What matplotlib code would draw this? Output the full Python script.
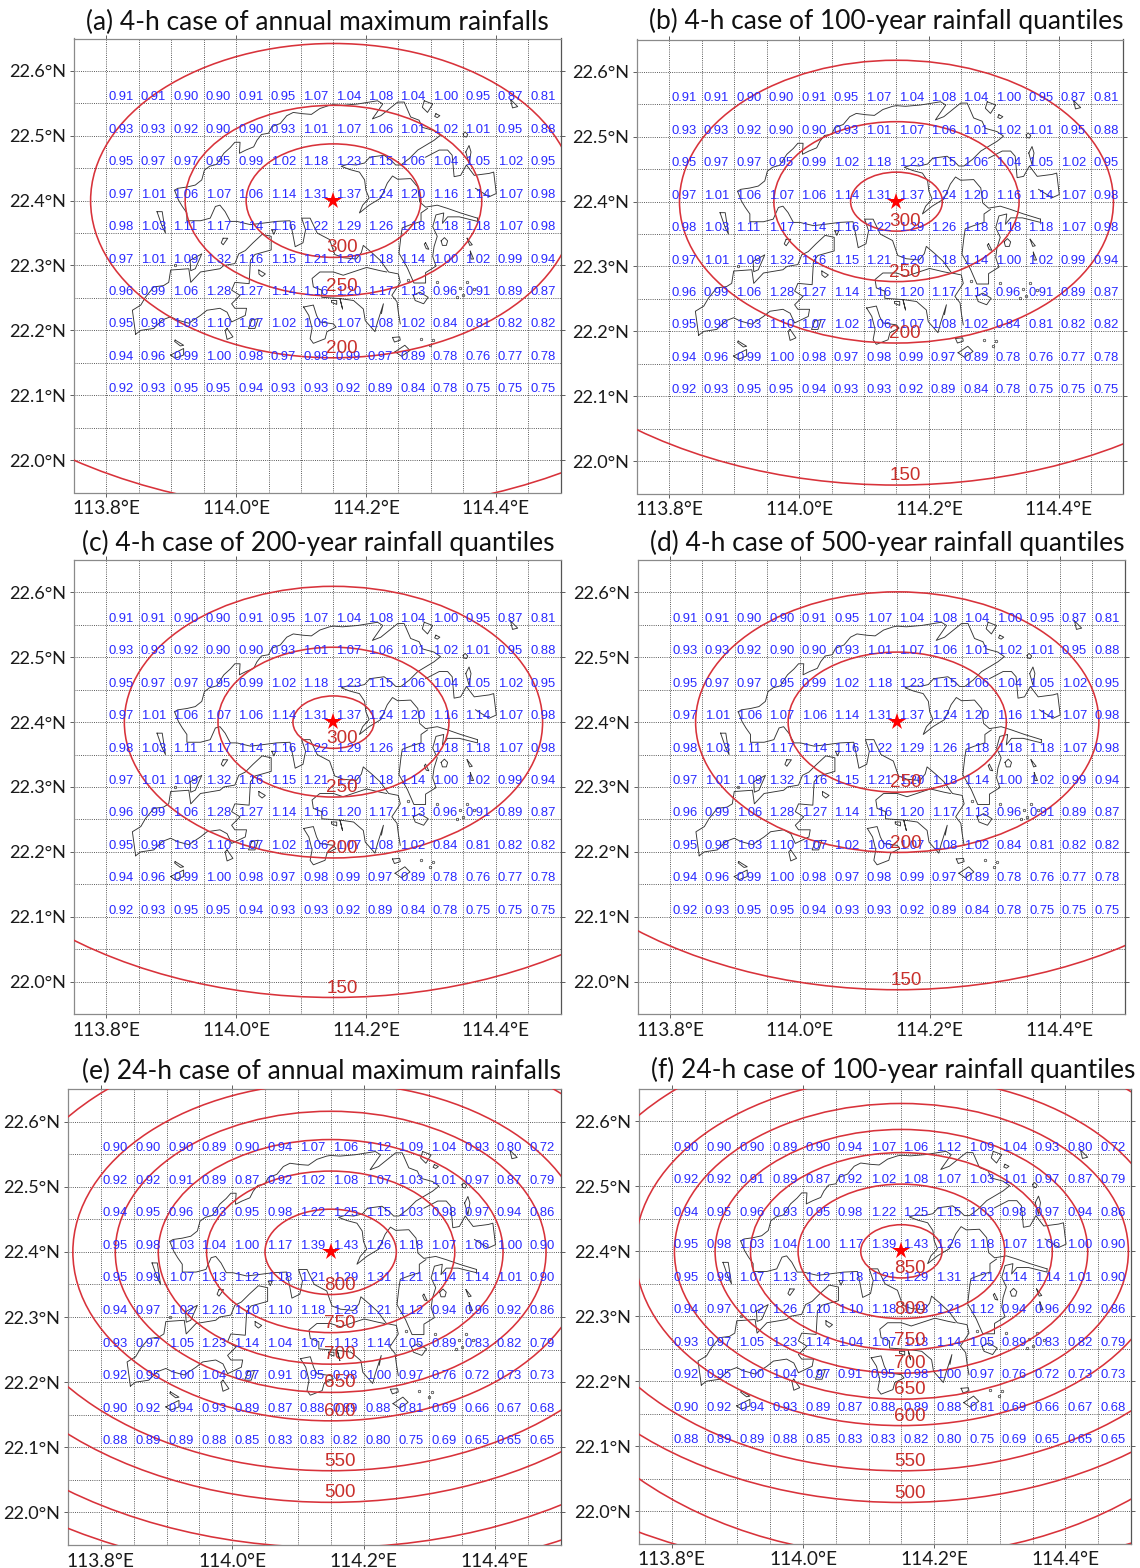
import matplotlib
matplotlib.use("Agg")
import matplotlib.pyplot as plt
from matplotlib.patches import Ellipse
from matplotlib.ticker import FixedLocator

W, H = 1140, 1568
plt.rcParams['font.family'] = ['Lato', 'DejaVu Sans']

# ---------- data ----------
grid_lons = [113.80, 113.85, 113.90, 113.95, 114.00, 114.05, 114.10, 114.15, 114.20, 114.25, 114.30, 114.35, 114.40, 114.45]
grid_lats = [22.55, 22.50, 22.45, 22.40, 22.35, 22.30, 22.25, 22.20, 22.15, 22.10]
x_tick_vals = [113.8, 114.0, 114.2, 114.4]
x_tick_text = ['113.8°E', '114.0°E', '114.2°E', '114.4°E']
y_tick_vals = [22.0, 22.1, 22.2, 22.3, 22.4, 22.5, 22.6]
y_tick_text = ['22.0°N', '22.1°N', '22.2°N', '22.3°N', '22.4°N', '22.5°N', '22.6°N']
star_lon, star_lat = 114.15, 22.40

ratio_4h = [
    [0.91, 0.91, 0.90, 0.90, 0.91, 0.95, 1.07, 1.04, 1.08, 1.04, 1.00, 0.95, 0.87, 0.81],
    [0.93, 0.93, 0.92, 0.90, 0.90, 0.93, 1.01, 1.07, 1.06, 1.01, 1.02, 1.01, 0.95, 0.88],
    [0.95, 0.97, 0.97, 0.95, 0.99, 1.02, 1.18, 1.23, 1.15, 1.06, 1.04, 1.05, 1.02, 0.95],
    [0.97, 1.01, 1.06, 1.07, 1.06, 1.14, 1.31, 1.37, 1.24, 1.20, 1.16, 1.14, 1.07, 0.98],
    [0.98, 1.03, 1.11, 1.17, 1.14, 1.16, 1.22, 1.29, 1.26, 1.18, 1.18, 1.18, 1.07, 0.98],
    [0.97, 1.01, 1.09, 1.32, 1.16, 1.15, 1.21, 1.20, 1.18, 1.14, 1.00, 1.02, 0.99, 0.94],
    [0.96, 0.99, 1.06, 1.28, 1.27, 1.14, 1.16, 1.20, 1.17, 1.13, 0.96, 0.91, 0.89, 0.87],
    [0.95, 0.98, 1.03, 1.10, 1.07, 1.02, 1.06, 1.07, 1.08, 1.02, 0.84, 0.81, 0.82, 0.82],
    [0.94, 0.96, 0.99, 1.00, 0.98, 0.97, 0.98, 0.99, 0.97, 0.89, 0.78, 0.76, 0.77, 0.78],
    [0.92, 0.93, 0.95, 0.95, 0.94, 0.93, 0.93, 0.92, 0.89, 0.84, 0.78, 0.75, 0.75, 0.75],
]
ratio_24h = [
    [0.90, 0.90, 0.90, 0.89, 0.90, 0.94, 1.07, 1.06, 1.12, 1.09, 1.04, 0.93, 0.80, 0.72],
    [0.92, 0.92, 0.91, 0.89, 0.87, 0.92, 1.02, 1.08, 1.07, 1.03, 1.01, 0.97, 0.87, 0.79],
    [0.94, 0.95, 0.96, 0.93, 0.95, 0.98, 1.22, 1.25, 1.15, 1.03, 0.98, 0.97, 0.94, 0.86],
    [0.95, 0.98, 1.03, 1.04, 1.00, 1.17, 1.39, 1.43, 1.26, 1.18, 1.07, 1.06, 1.00, 0.90],
    [0.95, 0.99, 1.07, 1.13, 1.12, 1.18, 1.21, 1.29, 1.31, 1.21, 1.14, 1.14, 1.01, 0.90],
    [0.94, 0.97, 1.02, 1.26, 1.10, 1.10, 1.18, 1.23, 1.21, 1.12, 0.94, 0.96, 0.92, 0.86],
    [0.93, 0.97, 1.05, 1.23, 1.14, 1.04, 1.07, 1.13, 1.14, 1.05, 0.89, 0.83, 0.82, 0.79],
    [0.92, 0.95, 1.00, 1.04, 0.97, 0.91, 0.95, 0.98, 1.00, 0.97, 0.76, 0.72, 0.73, 0.73],
    [0.90, 0.92, 0.94, 0.93, 0.89, 0.87, 0.88, 0.89, 0.88, 0.81, 0.69, 0.66, 0.67, 0.68],
    [0.88, 0.89, 0.89, 0.88, 0.85, 0.83, 0.83, 0.82, 0.80, 0.75, 0.69, 0.65, 0.65, 0.65],
]

# contour levels with east-west / north-south radii (degrees)
levels_a = [300, 250, 200, 150]
rx_a = [0.1346, 0.2286, 0.3744, 0.7265]
ry_a = [0.0875, 0.1470, 0.2423, 0.4795]
labeled_a = [300, 250, 200]

levels_b = [300, 250, 200, 150]
rx_b = [0.0707, 0.1890, 0.3345, 0.6740]
ry_b = [0.0455, 0.1233, 0.2180, 0.4370]
labeled_b = [300, 250, 200, 150]

levels_c = [300, 250, 200, 150]
rx_c = [0.0625, 0.1780, 0.3224, 0.6560]
ry_c = [0.0404, 0.1155, 0.2094, 0.4245]
labeled_c = [300, 250, 200, 150]

levels_d = [250, 200, 150]
rx_d = [0.1680, 0.3105, 0.6380]
ry_d = [0.1080, 0.2009, 0.4126]
labeled_d = [250, 200, 150]

levels_e = [800, 750, 700, 650, 600, 550, 500, 450, 400]
rx_e = [0.1000, 0.1890, 0.2625, 0.3280, 0.3926, 0.5080, 0.5830, 0.6780, 0.7650]
ry_e = [0.0655, 0.1240, 0.1724, 0.2158, 0.2594, 0.3360, 0.3845, 0.4540, 0.4980]
labeled_e = [800, 750, 700, 650, 600, 550, 500]

levels_f = [850, 800, 750, 700, 650, 600, 550, 500, 450, 400]
rx_f = [0.0620, 0.1575, 0.2300, 0.2840, 0.3460, 0.4060, 0.5100, 0.5840, 0.6000, 0.7930]
ry_f = [0.0410, 0.1035, 0.1520, 0.1877, 0.2277, 0.2684, 0.3380, 0.3868, 0.4700, 0.5010]
labeled_f = [850, 800, 750, 700, 650, 600, 550, 500]

# coastline (lon, lat)
coast_north_lon = [113.905, 113.910, 113.924, 113.937, 113.947, 113.951, 113.959, 113.970, 113.981, 113.991, 113.998, 114.006, 114.005, 114.015, 114.027, 114.032, 114.039, 114.050, 114.055, 114.068, 114.078, 114.088, 114.103, 114.116, 114.129, 114.144, 114.150, 114.164, 114.187, 114.218, 114.226, 114.210, 114.223, 114.249, 114.259, 114.269, 114.282, 114.287, 114.305, 114.315, 114.305, 114.280, 114.267, 114.254, 114.246, 114.239, 114.228, 114.206]
coast_north_lat = [22.416, 22.419, 22.421, 22.424, 22.432, 22.447, 22.453, 22.456, 22.473, 22.482, 22.490, 22.490, 22.473, 22.478, 22.483, 22.493, 22.502, 22.504, 22.514, 22.519, 22.531, 22.536, 22.534, 22.533, 22.542, 22.547, 22.548, 22.547, 22.549, 22.554, 22.549, 22.526, 22.531, 22.552, 22.552, 22.529, 22.524, 22.513, 22.508, 22.501, 22.493, 22.478, 22.465, 22.455, 22.455, 22.462, 22.470, 22.467]

coast_tolo_lon = [114.206, 114.198, 114.185, 114.172, 114.162, 114.175, 114.190, 114.198, 114.200, 114.205, 114.195, 114.190, 114.205, 114.223, 114.233, 114.241, 114.249, 114.269, 114.280, 114.283, 114.292, 114.310, 114.326, 114.346, 114.372]
coast_tolo_lat = [22.467, 22.458, 22.455, 22.456, 22.453, 22.448, 22.444, 22.432, 22.416, 22.404, 22.393, 22.381, 22.393, 22.404, 22.427, 22.438, 22.433, 22.434, 22.421, 22.398, 22.390, 22.393, 22.388, 22.381, 22.373]

coast_saikung_lon = [114.295, 114.285, 114.285, 114.269, 114.256, 114.254, 114.251, 114.264, 114.274, 114.292, 114.292, 114.308, 114.303, 114.305, 114.310, 114.303, 114.308, 114.320, 114.318, 114.326, 114.344, 114.372, 114.372]
coast_saikung_lat = [22.388, 22.381, 22.368, 22.363, 22.358, 22.345, 22.319, 22.296, 22.273, 22.273, 22.289, 22.299, 22.314, 22.329, 22.345, 22.360, 22.378, 22.381, 22.365, 22.375, 22.375, 22.368, 22.373]

coast_east_lon = [114.292, 114.313, 114.326, 114.333, 114.336, 114.346, 114.355, 114.367, 114.390, 114.397, 114.401, 114.390, 114.377, 114.369]
coast_east_lat = [22.467, 22.478, 22.478, 22.470, 22.437, 22.439, 22.455, 22.439, 22.442, 22.444, 22.411, 22.406, 22.414, 22.419]

coast_south_lon = [113.905, 113.911, 113.917, 113.924, 113.924, 113.945, 113.960, 113.968, 113.975, 113.983, 113.991, 114.001, 114.022, 114.039, 114.062, 114.083, 114.087, 114.091, 114.103, 114.107, 114.101, 114.114, 114.125, 114.144, 114.152, 114.165, 114.185, 114.193, 114.196, 114.209, 114.222, 114.235, 114.250, 114.253, 114.240, 114.248, 114.250, 114.253]
coast_south_lat = [22.416, 22.401, 22.391, 22.381, 22.369, 22.369, 22.373, 22.391, 22.393, 22.383, 22.368, 22.368, 22.363, 22.365, 22.368, 22.369, 22.350, 22.329, 22.335, 22.355, 22.373, 22.373, 22.350, 22.340, 22.317, 22.312, 22.310, 22.320, 22.331, 22.320, 22.308, 22.290, 22.287, 22.274, 22.254, 22.244, 22.228, 22.210]

coast_hki_lon = [114.232, 114.222, 114.201, 114.186, 114.165, 114.150, 114.129, 114.117, 114.119, 114.132, 114.132, 114.160, 114.164, 114.160, 114.181, 114.196, 114.199, 114.214, 114.218, 114.227, 114.224]
coast_hki_lat = [22.290, 22.292, 22.297, 22.292, 22.285, 22.290, 22.290, 22.280, 22.267, 22.262, 22.251, 22.249, 22.233, 22.249, 22.246, 22.233, 22.215, 22.198, 22.213, 22.241, 22.226]

coast_lantau_lon = [113.845, 113.840, 113.853, 113.860, 113.873, 113.888, 113.896, 113.899, 113.927, 113.930, 113.945, 113.975, 113.981, 113.998, 114.004, 114.014, 114.026, 114.040, 114.054, 114.054, 114.029, 114.022, 114.020, 113.998, 113.993, 114.006, 113.993, 113.998, 114.016, 114.014, 113.993, 113.986, 113.975, 113.955, 113.945, 113.927, 113.909, 113.899, 113.886, 113.873, 113.853, 113.845]
coast_lantau_lat = [22.194, 22.231, 22.239, 22.251, 22.267, 22.269, 22.274, 22.293, 22.295, 22.274, 22.290, 22.295, 22.300, 22.303, 22.318, 22.323, 22.335, 22.348, 22.345, 22.324, 22.317, 22.308, 22.272, 22.274, 22.262, 22.254, 22.241, 22.234, 22.234, 22.223, 22.213, 22.228, 22.234, 22.231, 22.223, 22.211, 22.216, 22.221, 22.216, 22.203, 22.200, 22.194]

coast_lamma_lon = [114.104, 114.119, 114.124, 114.129, 114.150, 114.154, 114.140, 114.137, 114.119, 114.114, 114.117, 114.112, 114.104]
coast_lamma_lat = [22.236, 22.239, 22.223, 22.213, 22.210, 22.205, 22.198, 22.187, 22.180, 22.187, 22.203, 22.223, 22.236]

island_lons = [
    [114.354, 114.359, 114.362, 114.359, 114.354],
    [114.350, 114.353, 114.357, 114.355, 114.351, 114.350],
    [114.290, 114.303, 114.295, 114.287, 114.290],
    [114.308, 114.314, 114.310, 114.306, 114.308],
    [114.423, 114.434, 114.426, 114.423],
    [114.316, 114.321, 114.326, 114.324, 114.318, 114.316],
    [114.292, 114.297, 114.293, 114.290, 114.292],
    [114.356, 114.364, 114.360, 114.356],
    [114.361, 114.366, 114.362, 114.361],
    [114.273, 114.283, 114.296, 114.289, 114.276, 114.273],
    [114.147, 114.155, 114.155, 114.147, 114.147],
    [114.241, 114.252, 114.253, 114.244, 114.241],
    [114.245, 114.260, 114.268, 114.255, 114.245],
    [113.986, 113.995, 113.986, 113.983, 113.986],
    [113.929, 113.947, 113.937, 113.930, 113.929],
    [114.035, 114.045, 114.040, 114.035, 114.035],
    [114.024, 114.034, 114.029, 114.019, 114.024],
    [113.906, 113.919, 113.914, 113.905, 113.906],
    [113.899, 113.919, 113.919, 113.906, 113.899],
    [113.878, 113.886, 113.891, 113.886, 113.878],
    [113.980, 113.987, 113.980, 113.977, 113.980],
    [114.055, 114.061, 114.058, 114.055],
]
island_lats = [
    [22.475, 22.485, 22.475, 22.457, 22.475],
    [22.503, 22.506, 22.502, 22.498, 22.499, 22.503],
    [22.554, 22.549, 22.536, 22.544, 22.554],
    [22.534, 22.531, 22.528, 22.530, 22.534],
    [22.556, 22.545, 22.543, 22.556],
    [22.338, 22.343, 22.338, 22.331, 22.331, 22.338],
    [22.335, 22.325, 22.326, 22.333, 22.335],
    [22.342, 22.332, 22.331, 22.342],
    [22.322, 22.310, 22.310, 22.322],
    [22.254, 22.259, 22.251, 22.241, 22.246, 22.254],
    [22.246, 22.246, 22.240, 22.243, 22.246],
    [22.189, 22.190, 22.185, 22.182, 22.189],
    [22.167, 22.177, 22.169, 22.160, 22.167],
    [22.203, 22.190, 22.186, 22.200, 22.203],
    [22.308, 22.318, 22.295, 22.292, 22.308],
    [22.293, 22.287, 22.283, 22.287, 22.293],
    [22.216, 22.218, 22.203, 22.203, 22.216],
    [22.185, 22.177, 22.176, 22.183, 22.185],
    [22.162, 22.172, 22.162, 22.157, 22.162],
    [22.383, 22.383, 22.350, 22.360, 22.383],
    [22.342, 22.342, 22.332, 22.335, 22.342],
    [22.355, 22.355, 22.348, 22.355],
]
islet_lon = [114.265, 114.309, 114.345, 114.356, 114.350, 114.341, 114.367, 114.285, 114.304, 114.299, 113.905]
islet_lat = [22.278, 22.274, 22.265, 22.274, 22.254, 22.251, 22.264, 22.187, 22.185, 22.177, 22.300]

coast_lines = [
    (coast_north_lon, coast_north_lat), (coast_tolo_lon, coast_tolo_lat),
    (coast_saikung_lon, coast_saikung_lat), (coast_east_lon, coast_east_lat),
    (coast_south_lon, coast_south_lat), (coast_hki_lon, coast_hki_lat),
    (coast_lantau_lon, coast_lantau_lat), (coast_lamma_lon, coast_lamma_lat),
] + list(zip(island_lons, island_lats))

# ---------- layout ----------
panels = [
    dict(title='(a) 4-h case of annual maximum rainfalls', box=(74, 38.5, 560.5, 492.5), tx=317, ty=22,
         vals=ratio_4h, lev=levels_a, rx=rx_a, ry=ry_a, lab=labeled_a),
    dict(title='(b) 4-h case of 100-year rainfall quantiles', box=(637, 39.5, 1123.5, 493.5), tx=886.5, ty=21,
         vals=ratio_4h, lev=levels_b, rx=rx_b, ry=ry_b, lab=labeled_b),
    dict(title='(c) 4-h case of 200-year rainfall quantiles', box=(74, 560, 560.5, 1014), tx=318, ty=543,
         vals=ratio_4h, lev=levels_c, rx=rx_c, ry=ry_c, lab=labeled_c),
    dict(title='(d) 4-h case of 500-year rainfall quantiles', box=(637.5, 560, 1124.5, 1014), tx=887, ty=543,
         vals=ratio_4h, lev=levels_d, rx=rx_d, ry=ry_d, lab=labeled_d),
    dict(title='(e) 24-h case of annual maximum rainfalls', box=(68, 1089, 560.5, 1545), tx=321, ty=1071,
         vals=ratio_24h, lev=levels_e, rx=rx_e, ry=ry_e, lab=labeled_e),
    dict(title='(f) 24-h case of 100-year rainfall quantiles', box=(639, 1089, 1131, 1543.5), tx=893, ty=1070,
         vals=ratio_24h, lev=levels_f, rx=rx_f, ry=ry_f, lab=labeled_f),
]

RED = '#d8323a'
LABEL_RED = '#c9302c'
BLUE = '#2a2aff'
minor_x = [113.85, 113.9, 113.95, 114.05, 114.1, 114.15, 114.25, 114.3, 114.35, 114.45]
minor_y = [22.05, 22.15, 22.25, 22.35, 22.45, 22.55]

fig = plt.figure(figsize=(W / 100, H / 100), dpi=100)
for p in panels:
    l, t, r, b = p['box']
    ax = fig.add_axes([l / W, 1 - b / H, (r - l) / W, (b - t) / H])
    ax.set_xlim(113.75, 114.5)
    ax.set_ylim(21.95, 22.65)
    ax.set_xticks(x_tick_vals, x_tick_text)
    ax.set_yticks(y_tick_vals, y_tick_text)
    ax.xaxis.set_minor_locator(FixedLocator(minor_x))
    ax.yaxis.set_minor_locator(FixedLocator(minor_y))
    ax.tick_params(axis='both', which='major', length=3, width=0.6, color='#444444',
                   top=True, right=True, pad=2.5, labelcolor='#1a1a1a')
    ax.tick_params(axis='x', which='major', labelsize=13.8)
    ax.tick_params(axis='y', which='major', labelsize=13.1)
    ax.tick_params(axis='both', which='minor', length=0)
    ax.grid(True, which='both', color='#444444', linestyle=(0, (1, 1.4)), linewidth=0.65, zorder=1)
    ax.set_axisbelow(True)
    for side, sp in ax.spines.items():
        sp.set_color('#8a8a8a')
        sp.set_linewidth(0.9)
    ax.spines['right'].set_color('#555555')

    for xs, ys in coast_lines:
        ax.plot(xs, ys, color='#333333', lw=0.65, zorder=2, solid_joinstyle='round')
    ax.plot(islet_lon, islet_lat, ls='none', marker='o', ms=1.8, mfc='none', mec='#333333', mew=0.5, zorder=2)

    for rx, ry in zip(p['rx'], p['ry']):
        ax.add_patch(Ellipse((star_lon, star_lat), 2 * rx, 2 * ry, fill=False, ec=RED, lw=1.15, zorder=3))

    for i, lat in enumerate(grid_lats):
        for j, lon in enumerate(grid_lons):
            ax.annotate(f"{p['vals'][i][j]:.2f}", xy=(lon, lat), xytext=(1.5, 4.3), textcoords='offset points',
                        ha='left', va='center', color=BLUE, fontsize=9.4, family=['Liberation Sans', 'DejaVu Sans'],
                        zorder=4)

    for lev, rx, ry in zip(p['lev'], p['rx'], p['ry']):
        if lev in p['lab']:
            ax.text(star_lon + 0.0135, star_lat - ry + 0.0145, str(lev), color=LABEL_RED, fontsize=13.6,
                    ha='center', va='center', family=['Liberation Sans', 'DejaVu Sans'], zorder=5)

    ax.plot([star_lon], [star_lat], marker='*', color='#ff0000', ms=13, mew=0, ls='none', zorder=6)
    fig.text(p['tx'] / W, 1 - p['ty'] / H, p['title'], ha='center', va='center', fontsize=19.0, color='#111111')

fig.savefig('out.png', dpi=100, facecolor='white')
